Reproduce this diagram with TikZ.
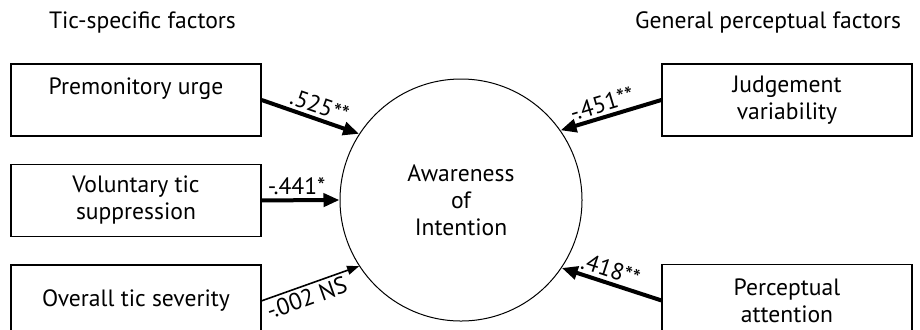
\documentclass[tikz,border=0pt]{standalone}
\usepackage{fontspec}
\setmainfont{PT Sans}
\usetikzlibrary{positioning,arrows.meta}
\tikzset{
factor/.style={
draw,
line width=0.7pt,
minimum width=125pt,
minimum height=36pt,
align=center,
inner sep=2pt,
font=\fontsize{11.8}{13.5}\selectfont
},
heading/.style={
font=\fontsize{11.8}{13.5}\selectfont
},
coef/.style={
font=\fontsize{11.8}{13}\selectfont,
inner sep=1.5pt
},
strong/.style={
-{Triangle[length=8pt,width=6.5pt]},
line width=2pt
},
weak/.style={
-{Triangle[length=6pt,width=4.5pt]},
line width=0.8pt
}
}

\begin{document}
\begin{tikzpicture}[x=0.5pt,y=-0.5pt,node distance=13.5pt]
\clip (0,0) rectangle (920,329);

\node[heading,anchor=west](tsf) at (42,22){Tic-specific factors};
\node[heading,anchor=east](gpf) at (908,22){General perceptual factors};

\node[factor](pu) at (136,100){Premonitory urge\\\mbox{}};
\node[factor,below=of pu](vts){Voluntary tic\\suppression};
\node[factor,below=of vts](ots){Overall tic severity};

\node[factor](jv) at (787,100){Judgement\\variability};
\node[factor,below=63.5pt of jv](pa){Perceptual\\attention};

\node[draw,circle,line width=0.5pt,minimum size=121pt,align=center,
font=\fontsize{11.8}{13.5}\selectfont](aw) at (461,200){Awareness\\of\\Intention};

\draw[strong](pu.east) -- node[coef,sloped,above,pos=0.55]{.525**} (aw.147);
\draw[strong](vts.east) -- node[coef,above,pos=0.45]{-.441*} (aw.west);
\draw[weak](ots.east) -- node[coef,sloped,below,pos=0.42]{-.002 NS} (aw.213);
\draw[strong](jv.west) -- node[coef,sloped,above,pos=0.55]{-.451**} (aw.35);
\draw[strong](pa.west) -- node[coef,sloped,above,pos=0.55]{.418**} (aw.326);

\end{tikzpicture}
\end{document}
